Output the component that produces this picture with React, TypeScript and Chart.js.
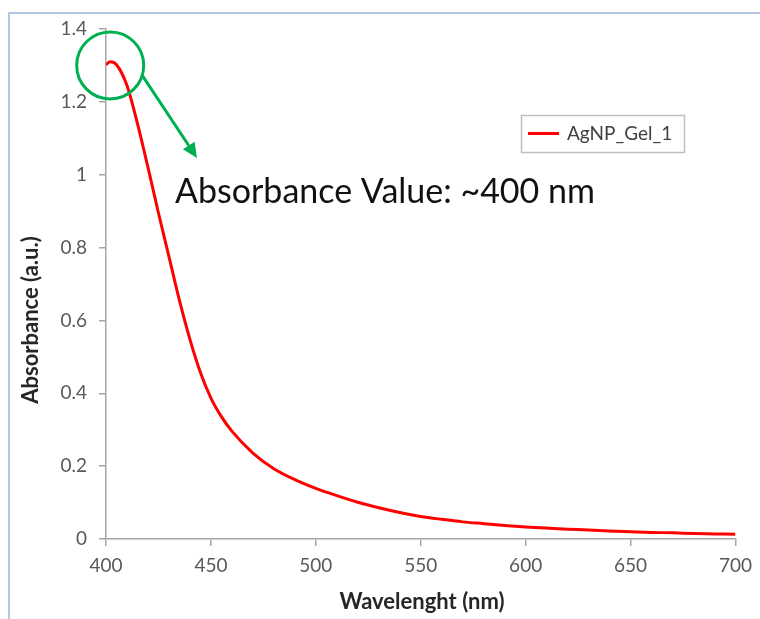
import React, { useEffect, useRef } from "react";
import { Chart, registerables } from "chart.js";

Chart.register(...registerables);

const wavelengths = [400, 402, 405, 410, 415, 420, 425, 430, 435, 440, 445, 450, 455, 460, 470, 480, 490, 500, 510, 520, 530, 540, 550, 560, 570, 580, 590, 600, 610, 620, 630, 640, 650, 660, 670, 680, 690, 700];
const absorbance = [1.302, 1.31, 1.302, 1.245, 1.14, 1.02, 0.895, 0.775, 0.655, 0.548, 0.457, 0.387, 0.336, 0.296, 0.236, 0.193, 0.163, 0.139, 0.119, 0.101, 0.086, 0.073, 0.062, 0.054, 0.047, 0.042, 0.037, 0.033, 0.03, 0.027, 0.025, 0.022, 0.02, 0.018, 0.017, 0.015, 0.014, 0.013];
const seriesName = "AgNP_Gel_1";
const xTitle = "Wavelenght (nm)";
const yTitle = "Absorbance (a.u.)";
const annotationText = "Absorbance Value: ~400 nm";
const FONT = "Lato, 'Open Sans', sans-serif";

const overlay = {
  id: "overlay",
  beforeDraw(chart: any) {
    const ctx = chart.ctx;
    ctx.save();
    ctx.fillStyle = "#ffffff";
    ctx.fillRect(0, 0, chart.width, chart.height);
    ctx.strokeStyle = "#b4c7e7";
    ctx.lineWidth = 2;
    ctx.beginPath();
    ctx.moveTo(9, chart.height);
    ctx.lineTo(9, 13);
    ctx.lineTo(chart.width, 13);
    ctx.stroke();
    ctx.restore();
  },
  afterDraw(chart: any) {
    const ctx = chart.ctx;
    const xs = chart.scales.x;
    const ys = chart.scales.y;
    ctx.save();
    // axis titles
    ctx.fillStyle = "#262626";
    ctx.font = `bold 22px ${FONT}`;
    ctx.textAlign = "center";
    ctx.textBaseline = "middle";
    ctx.fillText(xTitle, 422, 602);
    ctx.save();
    ctx.translate(31, 320);
    ctx.rotate(-Math.PI / 2);
    ctx.fillText(yTitle, 0, 0);
    ctx.restore();

    // legend
    ctx.strokeStyle = "#bfbfbf";
    ctx.lineWidth = 1.5;
    ctx.strokeRect(521.5, 115.5, 163, 37);
    ctx.strokeStyle = "#ff0000";
    ctx.lineWidth = 3;
    ctx.beginPath();
    ctx.moveTo(528, 133.5);
    ctx.lineTo(559, 133.5);
    ctx.stroke();
    ctx.fillStyle = "#404040";
    ctx.font = `19px ${FONT}`;
    ctx.textAlign = "left";
    ctx.fillText(seriesName, 567, 134);

    // annotation circle + arrow
    const cx = xs.getPixelForValue(402);
    const cy = ys.getPixelForValue(1.3);
    const r = 33.5;
    ctx.strokeStyle = "#00b050";
    ctx.lineWidth = 3;
    ctx.beginPath();
    ctx.arc(cx, cy, r, 0, Math.PI * 2);
    ctx.stroke();
    const sx = cx + r * Math.cos(0.3);
    const sy = cy + r * Math.sin(0.3);
    const tx = 197;
    const ty = 158;
    const ang = Math.atan2(ty - sy, tx - sx);
    const headLen = 15;
    const bx = tx - headLen * Math.cos(ang);
    const by = ty - headLen * Math.sin(ang);
    ctx.beginPath();
    ctx.moveTo(sx, sy);
    ctx.lineTo(bx, by);
    ctx.stroke();
    ctx.fillStyle = "#00b050";
    ctx.beginPath();
    ctx.moveTo(tx, ty);
    ctx.lineTo(bx + 7 * Math.cos(ang + Math.PI / 2), by + 7 * Math.sin(ang + Math.PI / 2));
    ctx.lineTo(bx + 7 * Math.cos(ang - Math.PI / 2), by + 7 * Math.sin(ang - Math.PI / 2));
    ctx.closePath();
    ctx.fill();

    ctx.fillStyle = "#111111";
    ctx.font = `34px ${FONT}`;
    ctx.textAlign = "left";
    ctx.textBaseline = "alphabetic";
    ctx.fillText(annotationText, 175, 203);
    ctx.restore();
  },
};

export default function App() {
  const ref = useRef<HTMLCanvasElement>(null);
  useEffect(() => {
    if (!ref.current) return;
    const chart = new Chart(ref.current, {
      type: "line",
      data: {
        datasets: [
          {
            label: seriesName,
            data: wavelengths.map((w, i) => ({ x: w, y: absorbance[i] })),
            borderColor: "#ff0000",
            borderWidth: 3,
            pointRadius: 0,
            cubicInterpolationMode: "monotone",
            fill: false,
          },
        ],
      },
      options: {
        animation: false,
        responsive: false,
        maintainAspectRatio: false,
        layout: { padding: { top: 29, right: 24, left: 0, bottom: 0 } },
        plugins: { legend: { display: false }, tooltip: { enabled: false } },
        scales: {
          x: {
            type: "linear",
            min: 400,
            max: 700,
            ticks: { stepSize: 50, color: "#595959", font: { family: FONT, size: 19 }, padding: 8 },
            grid: { drawOnChartArea: false, tickLength: 7, color: "#a6a6a6", lineWidth: 1.5 },
            border: { color: "#a6a6a6", width: 1.5 },
            afterFit: (s: any) => { s.height = 80; },
          },
          y: {
            min: 0,
            max: 1.4,
            ticks: {
              stepSize: 0.2,
              color: "#595959",
              font: { family: FONT, size: 19 },
              padding: 12,
              callback: (v: any) => String(Number(Number(v).toFixed(1))),
            },
            grid: { drawOnChartArea: false, tickLength: 7, color: "#a6a6a6", lineWidth: 1.5 },
            border: { color: "#a6a6a6", width: 1.5 },
            afterFit: (s: any) => { s.width = 106; },
          },
        },
      },
      plugins: [overlay],
    });
    return () => chart.destroy();
  }, []);
  return (
    <div style={{ position: "fixed", left: 0, top: 0, width: 760, height: 619 }}>
      <canvas ref={ref} width={760} height={619} style={{ width: 760, height: 619 }} />
    </div>
  );
}
